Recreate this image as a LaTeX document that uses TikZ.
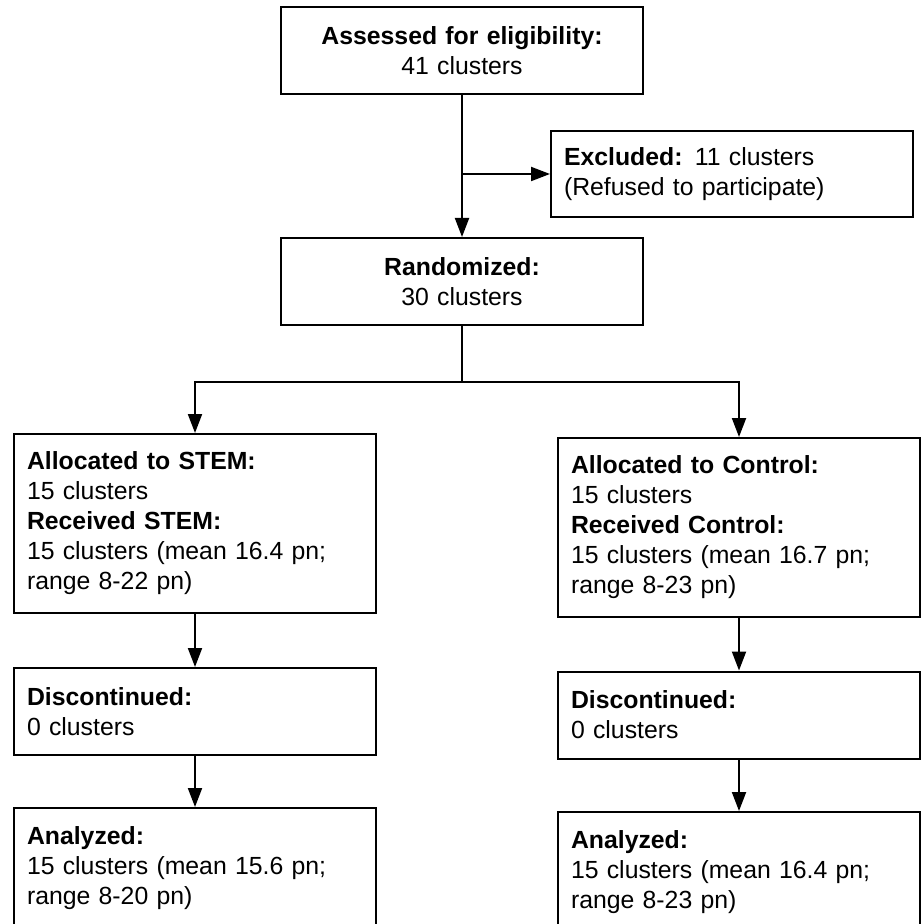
\documentclass[tikz,border=0pt]{standalone}
\usepackage{fontspec}
\setmainfont{Liberation Sans}
\usetikzlibrary{arrows.meta}
\begin{document}
\begin{tikzpicture}[x=0.5pt, y=-0.5pt, >={Triangle[length=9.5pt,width=7pt]}, line width=1pt,
  box/.style={draw, line width=1pt, text width=168pt, inner xsep=6.5pt, inner ysep=0pt,
    font=\fontsize{12.4}{15}\selectfont},
  midbox/.style={box, align=center, minimum height=43.5pt},
  sidebox/.style={box, align=left}]
\useasboundingbox (0,0) rectangle (920,924);
\node[midbox] (assess) at (462,50.5) {\textbf{Assessed for eligibility:}\\41 clusters};
\node[sidebox, minimum height=43pt] (excl) at (732,174) {\textbf{Excluded:} 11 clusters\\(Refused to participate)};
\node[midbox] (rand) at (462,281.5) {\textbf{Randomized:}\\30 clusters};
\node[sidebox, minimum height=89.5pt] (stem1) at (195,523.5) {\textbf{Allocated to STEM:}\\15 clusters\\\textbf{Received STEM:}\\15 clusters (mean 16.4 pn;\\range 8-22 pn)};
\node[sidebox, minimum height=89.5pt] (ctrl1) at (739,527.5) {\textbf{Allocated to Control:}\\15 clusters\\\textbf{Received Control:}\\15 clusters (mean 16.7 pn;\\range 8-23 pn)};
\node[sidebox, minimum height=43.5pt] (stem2) at (195,711.5) {\textbf{Discontinued:}\\0 clusters};
\node[sidebox, minimum height=43.5pt] (ctrl2) at (739,715) {\textbf{Discontinued:}\\0 clusters};
\node[sidebox, minimum height=60pt] (stem3) at (195,868) {\textbf{Analyzed:}\\15 clusters (mean 15.6 pn;\\range 8-20 pn)};
\node[sidebox, minimum height=60pt] (ctrl3) at (739,872) {\textbf{Analyzed:}\\15 clusters (mean 16.4 pn;\\range 8-23 pn)};
\coordinate (split) at (462,382);
\draw[->] (assess) -- (rand);
\draw[->] (assess.south |- excl.west) -- (excl.west);
\draw (rand) -- (split);
\draw[->] (split) -| (stem1.north);
\draw[->] (split) -| (ctrl1.north);
\draw[->] (stem1) -- (stem2);
\draw[->] (stem2) -- (stem3);
\draw[->] (ctrl1) -- (ctrl2);
\draw[->] (ctrl2) -- (ctrl3);
\end{tikzpicture}
\end{document}
